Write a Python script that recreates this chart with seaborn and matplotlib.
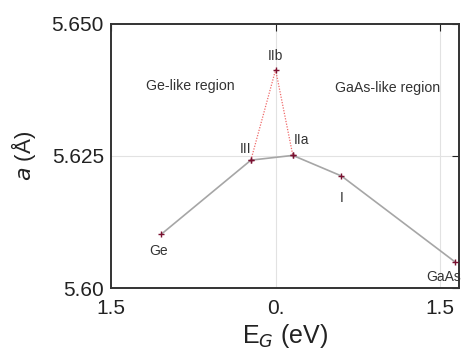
import matplotlib
matplotlib.use("Agg")
import matplotlib.pyplot as plt
import numpy as np
import pandas as pd
import seaborn as sns

# data (E_G in eV, Ge-like side negative; a in Angstrom)
main_labels = ["Ge", "III", "IIa", "I", "GaAs"]
main_eg = [-1.04, -0.225, 0.157, 0.60, 1.63]
main_a = [5.6102, 5.6242, 5.6251, 5.6212, 5.6050]

branch_labels = ["III", "IIb", "IIa"]
branch_eg = [-0.225, 0.0, 0.157]
branch_a = [5.6242, 5.6413, 5.6251]

x_ticks = [-1.5, 0.0, 1.5]
x_ticklabels = ["1.5", "0.", "1.5"]
y_ticks = [5.60, 5.625, 5.650]
y_ticklabels = ["5.60", "5.625", "5.650"]

main_df = pd.DataFrame({"eg": main_eg, "a": main_a, "label": main_labels})
branch_df = pd.DataFrame({"eg": branch_eg, "a": branch_a, "label": branch_labels})

sns.set_style("white")
plt.rcParams["font.family"] = ["Liberation Sans", "DejaVu Sans"]

fig = plt.figure(figsize=(4.62, 3.56), dpi=100)
ax = fig.add_axes([0.240, 0.191, 0.7535, 0.742])

# grid lines only at interior ticks
for xv in [0.0, 1.5]:
    ax.axvline(xv, color="#e2e2e2", lw=0.8, zorder=0)
ax.axhline(5.625, color="#e2e2e2", lw=0.8, zorder=0)

sns.lineplot(data=branch_df, x="eg", y="a", sort=False, ax=ax,
             color="#ef6a6a", lw=0.9, linestyle=(0, (1, 1.2)), zorder=2)
sns.lineplot(data=main_df, x="eg", y="a", sort=False, ax=ax,
             color="#a6a6a6", lw=1.2, zorder=2)
sns.scatterplot(data=pd.concat([main_df, branch_df]), x="eg", y="a", ax=ax,
                marker="+", color="#7a1030", s=22, linewidth=1.0, zorder=3)

# point labels (offsets in points)
offsets = {"Ge": (-2, -12), "III": (-4, 8), "IIb": (0, 10), "IIa": (6, 11),
           "I": (0, -16), "GaAs": (-8, -11)}
for _, row in pd.concat([main_df, branch_df]).drop_duplicates("label").iterrows():
    dx, dy = offsets[row["label"]]
    ax.annotate(row["label"], (row["eg"], row["a"]), xytext=(dx, dy),
                textcoords="offset points", ha="center", va="center",
                fontsize=10, color="#333333", annotation_clip=False)

ax.text(-0.78, 5.6382, "Ge-like region", ha="center", va="center",
        fontsize=10.2, color="#333333")
ax.text(1.02, 5.6378, "GaAs-like region", ha="center", va="center",
        fontsize=10.2, color="#333333")

ax.set_xlim(-1.5, 1.67)
ax.set_ylim(5.60, 5.650)
ax.set_xticks(x_ticks)
ax.set_xticklabels(x_ticklabels)
ax.set_yticks(y_ticks)
ax.set_yticklabels(y_ticklabels)
ax.tick_params(axis="both", direction="in", length=5, width=0.8,
               labelsize=15, colors="#222222", top=True, right=True)
ax.tick_params(axis="x", pad=8)
ax.tick_params(axis="y", pad=5)
ax.set_xlabel("E$_G$ (eV)", fontsize=18, color="#222222", labelpad=3)
ax.set_ylabel("$a$ (Å)", fontsize=16, color="#222222", labelpad=10)
for sp in ax.spines.values():
    sp.set_color("#333333")
    sp.set_linewidth(1.4)

fig.savefig("out.png", dpi=100)
